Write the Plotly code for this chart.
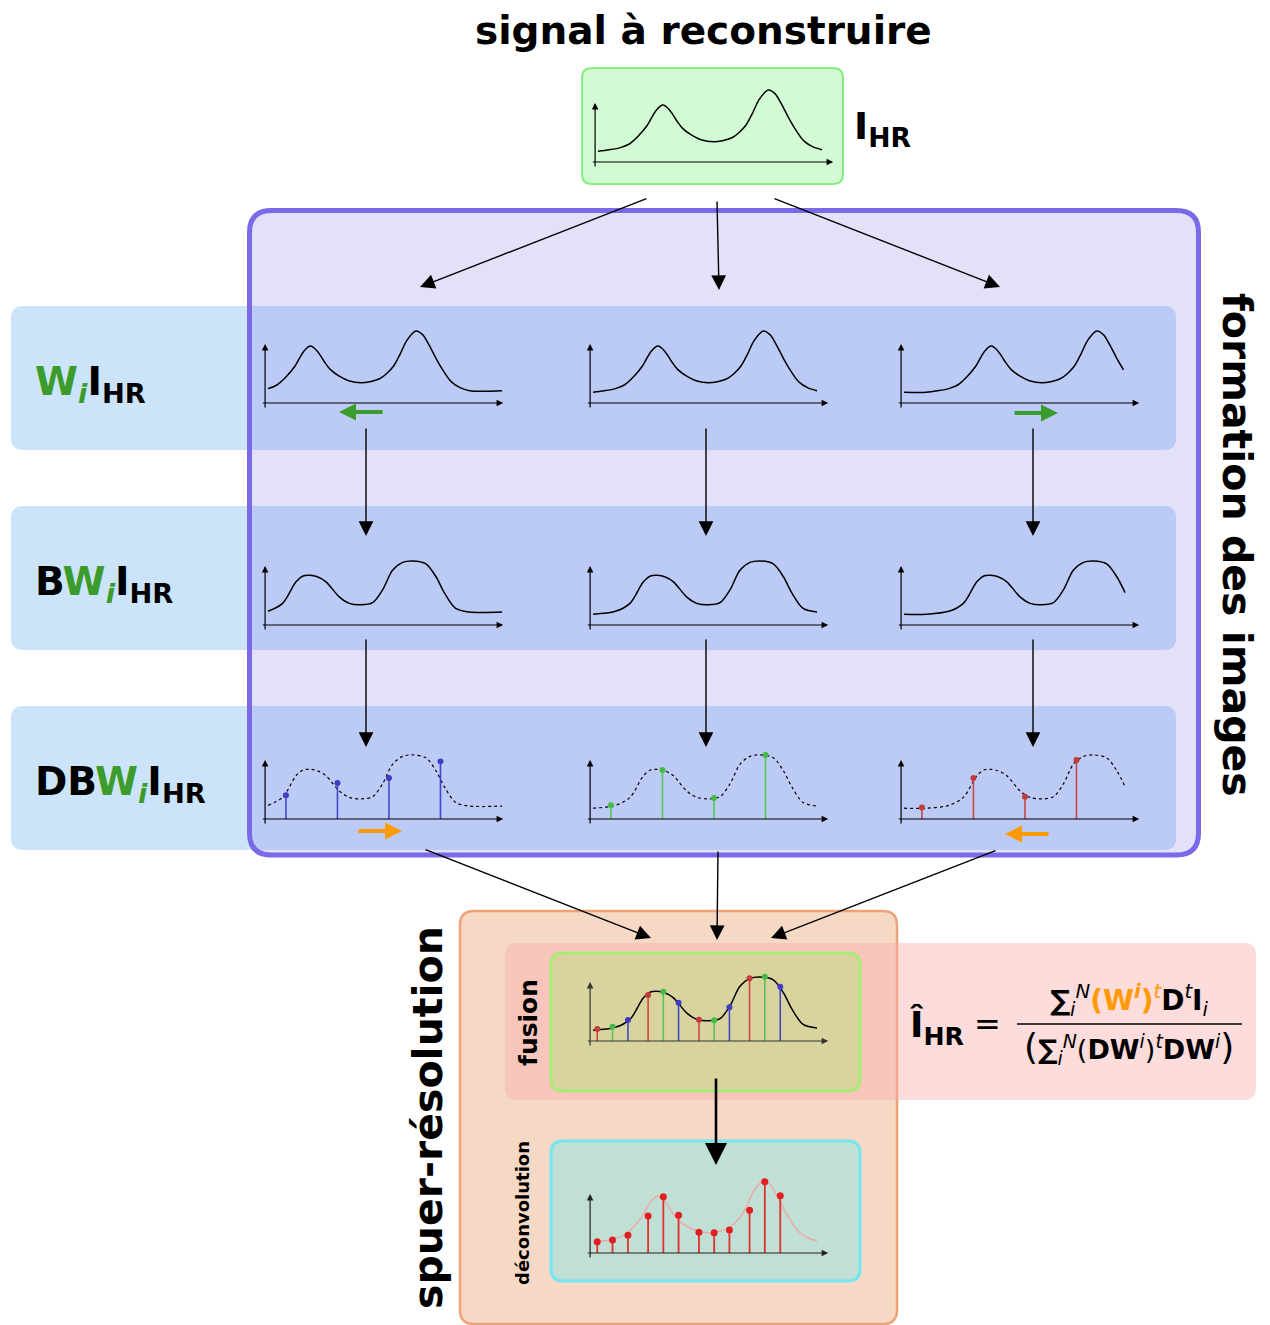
import plotly.graph_objects as go

# page body margin of the browser (8 px) is compensated so that reference pixel
# coordinates can be used directly
OX, OY = 8, 8
FW, FH = 1262, 1317

# ---------------- data ----------------
# high-resolution signal (normalised abscissa / height)
hr_t = [0.00, 0.05, 0.10, 0.14, 0.18, 0.22, 0.26, 0.29, 0.32, 0.35, 0.38, 0.42, 0.46, 0.515,
        0.56, 0.60, 0.63, 0.66, 0.69, 0.72, 0.76, 0.79, 0.82, 0.85, 0.88, 0.92, 0.96, 1.00]
hr_y = [0.15, 0.17, 0.20, 0.25, 0.36, 0.51, 0.72, 0.79, 0.72, 0.58, 0.46, 0.37, 0.31, 0.28,
        0.30, 0.34, 0.41, 0.51, 0.68, 0.87, 1.00, 0.95, 0.80, 0.62, 0.46, 0.29, 0.21, 0.17]
# blurred signal
blur_t = [0.00, 0.10, 0.165, 0.225, 0.256, 0.287, 0.32, 0.359, 0.418, 0.463, 0.515, 0.567,
          0.612, 0.656, 0.701, 0.745, 0.805, 0.850, 0.887, 0.938, 1.00]
blur_y = [0.15, 0.19, 0.30, 0.60, 0.68, 0.69, 0.67, 0.60, 0.39, 0.30, 0.28, 0.31,
          0.49, 0.76, 0.87, 0.89, 0.85, 0.67, 0.45, 0.23, 0.18]
# sub-pixel shifts of the three images
shifts = [-0.10, 0.0, 0.10]
# decimated samples of each image
dbw_t = [0.08, 0.31, 0.54, 0.77]
dbw_h = [[0.33, 0.50, 0.57, 0.80],
         [0.19, 0.68, 0.29, 0.89],
         [0.16, 0.57, 0.31, 0.82]]
# fused samples
fus_t = [0.019, 0.087, 0.156, 0.246, 0.314, 0.382, 0.473, 0.541, 0.609, 0.699, 0.767, 0.836]
fus_h = [0.167, 0.199, 0.292, 0.639, 0.685, 0.532, 0.296, 0.287, 0.468, 0.870, 0.894, 0.755]
fus_src = [2, 1, 0, 2, 1, 0, 2, 1, 0, 2, 1, 0]
# deconvolved samples
dec_h = [0.157, 0.181, 0.245, 0.514, 0.782, 0.523, 0.287, 0.282, 0.319, 0.593, 0.991, 0.796]

# ---------------- styles ----------------
FONT = "DejaVu Sans"
SAMPLE_COLORS = ["#4646c8", "#58c458", "#c94848"]
DOT_COLORS = ["#3c3cc4", "#44bb44", "#c23c3c"]
GREEN_TXT = "#3b9b2b"
ORANGE = "#ff9a00"
SX, SY = 224.0, 72.0
T_RANGE = (-0.06, 1.10)
H_RANGE = (-0.15, 1.12)

fig = go.Figure()
layout = dict(
    width=FW, height=FH, margin=dict(l=0, r=0, t=0, b=0),
    paper_bgcolor="white", plot_bgcolor="rgba(0,0,0,0)", template="none",
    showlegend=False,
    xaxis=dict(domain=[0, 1], range=[OX, OX + FW], visible=False, fixedrange=True),
    yaxis=dict(domain=[0, 1], range=[OY + FH, OY], visible=False, fixedrange=True),
)
shapes = []
annotations = []


def rpath(x0, y0, x1, y1, rl, rr=None):
    if rr is None:
        rr = rl
    return (f"M{x0+rl},{y0} L{x1-rr},{y0} Q{x1},{y0} {x1},{y0+rr} L{x1},{y1-rr} "
            f"Q{x1},{y1} {x1-rr},{y1} L{x0+rl},{y1} Q{x0},{y1} {x0},{y1-rl} "
            f"L{x0},{y0+rl} Q{x0},{y0} {x0+rl},{y0} Z")


def box(x0, y0, x1, y1, r, fill=None, line=None, lw=0, rr=None):
    shapes.append(dict(type="path", xref="x", yref="y", layer="below",
                       path=rpath(x0, y0, x1, y1, r, rr),
                       fillcolor=fill if fill else "rgba(0,0,0,0)",
                       line=dict(color=line if line else "rgba(0,0,0,0)", width=lw)))


def arrow(x0, y0, x1, y1, color="black", width=1.4, size=2.1):
    annotations.append(dict(x=x1, y=y1, ax=x0, ay=y0, xref="x", yref="y", axref="x", ayref="y",
                            text="", showarrow=True, arrowhead=2, arrowsize=size,
                            arrowwidth=width, arrowcolor=color, standoff=0))


def text(x, y, s, size, angle=0, xanchor="center", color="black", font=FONT):
    annotations.append(dict(x=x, y=y, xref="x", yref="y", text=s, showarrow=False,
                            textangle=angle, xanchor=xanchor, yanchor="middle",
                            font=dict(family=font, size=size, color=color)))


panel_count = [1]


def panel(x0, y0, axis_color="black"):
    panel_count[0] += 1
    n = panel_count[0]
    left, right = x0 + T_RANGE[0] * SX, x0 + T_RANGE[1] * SX
    top, bottom = y0 - H_RANGE[1] * SY, y0 - H_RANGE[0] * SY
    layout[f"xaxis{n}"] = dict(domain=[(left - OX) / FW, (right - OX) / FW], range=list(T_RANGE),
                               visible=False, anchor=f"y{n}", fixedrange=True)
    layout[f"yaxis{n}"] = dict(domain=[1 - (bottom - OY) / FH, 1 - (top - OY) / FH],
                               range=list(H_RANGE), visible=False, anchor=f"x{n}", fixedrange=True)
    xa, ya = f"x{n}", f"y{n}"
    for (tx, ty, hx, hy) in [(-0.013, -0.083, -0.013, 0.82), (-0.03, 0.0, 1.05, 0.0)]:
        annotations.append(dict(x=hx, y=hy, ax=tx, ay=ty, xref=xa, yref=ya, axref=xa, ayref=ya,
                                text="", showarrow=True, arrowhead=2, arrowsize=1.1,
                                arrowwidth=1.2, arrowcolor=axis_color, standoff=0))
    return xa, ya


def curve(xa, ya, ts, ys, color="black", width=1.5, dash=None):
    fig.add_trace(go.Scatter(x=ts, y=ys, xaxis=xa, yaxis=ya, mode="lines",
                             line=dict(color=color, width=width, shape="spline", smoothing=0.9,
                                       dash=dash), hoverinfo="skip"))


def shifted(ts, ys, s, lo=-0.015, hi=0.99, ext_lo=None, ext_hi=None):
    pts = [(t + s, y) for t, y in zip(ts, ys) if lo <= t + s <= hi]
    xs = [p[0] for p in pts]
    vs = [p[1] for p in pts]
    if ext_hi is not None:
        xs.append(ext_hi)
        vs.append(vs[-1])
    if ext_lo is not None:
        xs.insert(0, ext_lo)
        vs.insert(0, vs[0])
    return xs, vs


def stems(xa, ya, ts, hs, colors, dots, width=1.6, msize=6):
    for t, h, c, d in zip(ts, hs, colors, dots):
        fig.add_trace(go.Scatter(x=[t, t], y=[0, h], xaxis=xa, yaxis=ya, mode="lines",
                                 line=dict(color=c, width=width), hoverinfo="skip"))
        fig.add_trace(go.Scatter(x=[t], y=[h], xaxis=xa, yaxis=ya, mode="markers",
                                 marker=dict(color=d, size=msize), hoverinfo="skip"))


# ---------------- background boxes ----------------
box(249.5, 210.5, 1198.5, 855, 22, fill="#e3e1f8")
for top in (306, 506, 706):
    box(11, top, 1176, top + 144, 12, fill="#cce4fa")
    box(251, top, 1176, top + 144, 0, fill="#bccbf6", rr=12)
box(249.5, 210.5, 1198.5, 855, 22, line="#7b6ae8", lw=5)
box(582, 68, 843, 184, 10, fill="#d3fbd3", line="#84ee84", lw=2)
box(460, 911, 897, 1324, 14, fill="#f6d9c5", line="#eda37a", lw=2.5)
box(505, 943, 1256, 1100, 12, fill="rgba(250,168,168,0.40)")
box(551, 953, 860, 1091, 12, fill="#d9d49e", line="#a8ec78", lw=3)
box(551, 1141, 860, 1281, 12, fill="#c0dfd5", line="#76e6ee", lw=3)
shapes.append(dict(type="line", xref="x", yref="y", x0=1017, x1=1242, y0=1024, y1=1024,
                   line=dict(color="black", width=1.3)))

# ---------------- panels ----------------
xa, ya = panel(598, 162)
curve(xa, ya, hr_t, hr_y)

col_x0 = [268, 593, 904]
for k in range(3):
    s = shifts[k]
    ext_hi = 1.045 if s < 0 else None
    ext_lo = 0.0 if s > 0 else None
    # row 1: shifted
    xa, ya = panel(col_x0[k], 403)
    xs, vs = shifted(hr_t, hr_y, s, ext_lo=ext_lo, ext_hi=ext_hi, hi=0.99 if s > 0 else 1.1)
    curve(xa, ya, xs, vs)
    # row 2: blurred
    xa, ya = panel(col_x0[k], 625)
    xs, vs = shifted(blur_t, blur_y, s, ext_lo=ext_lo, ext_hi=ext_hi, hi=0.99 if s > 0 else 1.1)
    curve(xa, ya, xs, vs)
    # row 3: decimated
    xa, ya = panel(col_x0[k], 819)
    curve(xa, ya, xs, vs, width=1.2, dash="3px,3px")
    stems(xa, ya, dbw_t, dbw_h[k], [SAMPLE_COLORS[k]] * 4, [DOT_COLORS[k]] * 4)

# fusion
xa, ya = panel(593, 1041, axis_color="#333333")
curve(xa, ya, blur_t, blur_y)
stems(xa, ya, fus_t, fus_h, [SAMPLE_COLORS[i] for i in fus_src], [DOT_COLORS[i] for i in fus_src])

# deconvolution
xa, ya = panel(593, 1253, axis_color="#222222")
curve(xa, ya, hr_t, hr_y, color="#f2a3a3", width=1.3)
stems(xa, ya, fus_t, dec_h, ["#e03030"] * 12, ["#e02020"] * 12, width=1.8, msize=7)

# ---------------- arrows ----------------
arrow(648, 198, 420, 287)
arrow(717, 200, 719, 290)
arrow(773, 198, 1000, 287)
for x in (366, 706, 1033):
    arrow(x, 427, x, 536)
    arrow(x, 638, x, 747)
arrow(424, 849, 651, 938)
arrow(718, 850, 717, 940)
arrow(997, 850, 771, 938)
arrow(716, 1077, 716, 1165, width=2.6, size=1.7)

arrow(384, 412, 339, 412, color=GREEN_TXT, width=4, size=0.85)
arrow(1013, 413, 1058, 413, color=GREEN_TXT, width=4, size=0.85)
arrow(357, 831, 402, 831, color=ORANGE, width=4, size=0.85)
arrow(1050, 834, 1005, 834, color=ORANGE, width=4, size=0.85)

# ---------------- texts ----------------
text(703, 30, "<b>signal à reconstruire</b>", 39)
text(852, 128, "<b>I<sub>HR</sub></b>", 38, xanchor="left")
wi = f"<span style='color:{GREEN_TXT}'>W<sub><i>i</i></sub></span>"
text(33, 384, f"<b>{wi}I<sub>HR</sub></b>", 39, xanchor="left")
text(33, 584, f"<b>B{wi}I<sub>HR</sub></b>", 39, xanchor="left")
text(33, 784, f"<b>DB{wi}I<sub>HR</sub></b>", 39, xanchor="left")
text(1237, 545, "<b>formation des images</b>", 41, angle=90)
text(428, 1118, "<b>spuer-résolution</b>", 41, angle=-90)
text(528, 1023, "<b>fusion</b>", 25, angle=-90)
text(522, 1213, "<b>déconvolution</b>", 18, angle=-90)

text(908, 1027, "<b>Î<sub>HR</sub></b>", 36, xanchor="left")
text(987, 1024, "=", 32)
num = (f"<b>∑</b><sub><i>i</i></sub><sup><i>N</i></sup>"
       f"<span style='color:{ORANGE}'><b>(W<sup><i>i</i></sup>)</b><sup><i>t</i></sup></span>"
       f"<b>D</b><sup><i>t</i></sup><b>I</b><sub><i>i</i></sub>")
den = (f"<span style='font-size:36px'>(</span><b>∑</b><sub><i>i</i></sub><sup><i>N</i></sup>"
       f"(<b>DW</b><sup><i>i</i></sup>)"
       f"<sup><i>t</i></sup><b>DW</b><sup><i>i</i></sup><span style='font-size:36px'>)</span>")
text(1129, 1000, num, 28)
text(1129, 1047, den, 27)

layout["shapes"] = shapes
layout["annotations"] = annotations
fig.update_layout(**layout)
fig.write_html("out.html")
